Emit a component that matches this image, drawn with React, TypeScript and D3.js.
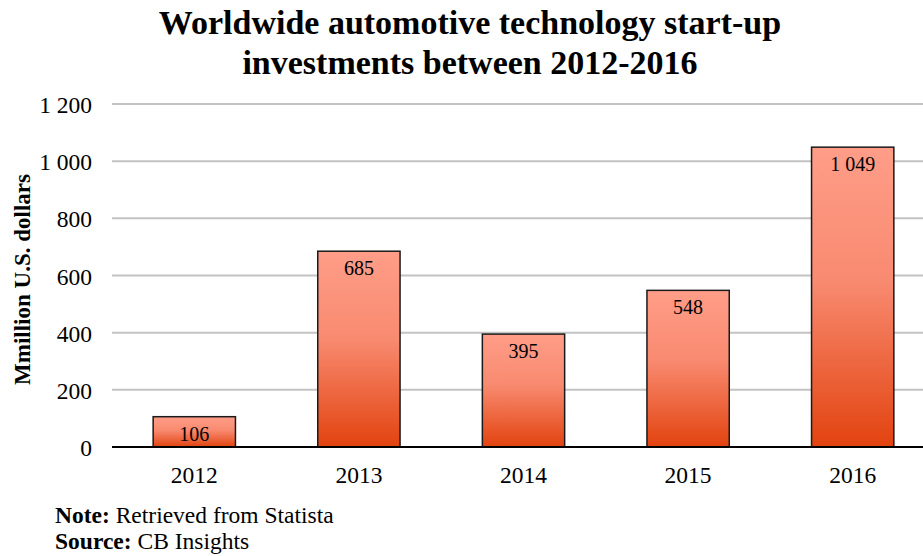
import React from "react";
import * as d3 from "d3";

const years = ["2012", "2013", "2014", "2015", "2016"];
const values = [106, 685, 395, 548, 1049];
const yTicks = [0, 200, 400, 600, 800, 1000, 1200];

const W = 923;
const H = 556;
const margin = { left: 112, top: 104, bottom: 109 };

const fmt = d3.formatLocale({ decimal: ".", thousands: " ", grouping: [3], currency: ["", ""] }).format(",d");
const font = "Liberation Serif";
const ts = { fontFamily: font } as React.CSSProperties;

export default function App() {
  const x = d3.scaleBand<string>().domain(years).range([margin.left, 935]).paddingInner(0.5).paddingOuter(0.25);
  const y = d3.scaleLinear().domain([0, 1200]).range([H - margin.bottom, margin.top]);
  return (
    <svg width={W} height={H} style={{ position: "absolute", left: 0, top: 0, background: "#fff", fontFamily: font }}>
      <defs>
        <linearGradient id="barGrad" x1="0" y1="0" x2="0" y2="1">
          <stop offset="0%" stopColor="#FF9D88" />
          <stop offset="45%" stopColor="#F88A70" />
          <stop offset="100%" stopColor="#E2430F" />
        </linearGradient>
      </defs>
      <text x={470} y={34} textAnchor="middle" fontSize={34} fontWeight="bold" style={ts}>Worldwide automotive technology start-up</text>
      <text x={470} y={74} textAnchor="middle" fontSize={34} fontWeight="bold" style={ts}>investments between 2012-2016</text>
      {yTicks.map((t) => (
        <g key={t}>
          {t > 0 && <line x1={margin.left} x2={W} y1={y(t)} y2={y(t)} stroke="#c3c3c3" strokeWidth={2} />}
          <text x={92} y={y(t) + 9} textAnchor="end" fontSize={23.5} style={ts}>{fmt(t)}</text>
        </g>
      ))}
      <text transform={`translate(30,${(y(0) + y(1200)) / 2 + 4}) rotate(-90)`} textAnchor="middle" fontSize={23} fontWeight="bold" style={ts}>Mmillion U.S. dollars</text>
      {years.map((yr, i) => {
        const v = values[i];
        const bx = x(yr)!;
        return (
          <g key={yr}>
            <rect x={bx} y={y(v)} width={x.bandwidth()} height={y(0) - y(v)} fill="url(#barGrad)" stroke="#1a1a1a" strokeWidth={1.5} />
            <text x={bx + x.bandwidth() / 2} y={y(v) + 24} textAnchor="middle" fontSize={20} style={ts}>{fmt(v)}</text>
            <text x={bx + x.bandwidth() / 2} y={483} textAnchor="middle" fontSize={23.5} style={ts}>{yr}</text>
          </g>
        );
      })}
      <line x1={margin.left} x2={W} y1={y(0)} y2={y(0)} stroke="#000" strokeWidth={2} />
      <text x={55} y={523} fontSize={23.5} style={ts}><tspan fontWeight="bold">Note:</tspan> Retrieved from Statista</text>
      <text x={55} y={549} fontSize={23.5} style={ts}><tspan fontWeight="bold">Source:</tspan> CB Insights</text>
    </svg>
  );
}
